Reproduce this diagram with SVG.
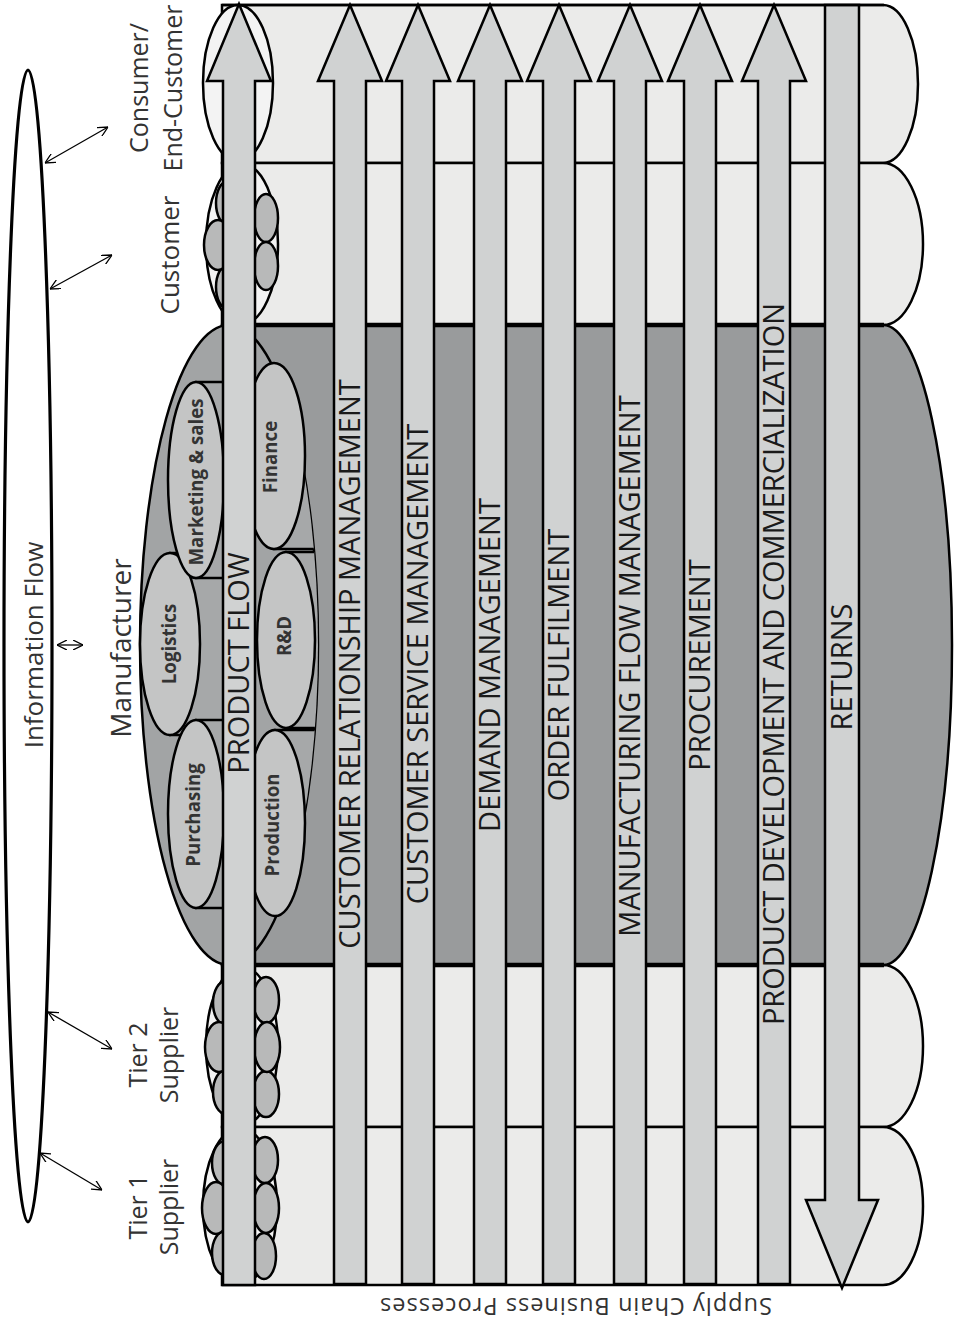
<svg xmlns="http://www.w3.org/2000/svg" width="954" height="1325" viewBox="0 0 954 1325">
<defs>
<style>
.band{fill:#ebebea;stroke:#000;stroke-width:2.5}
.face{fill:#f3f3f3;stroke:#000;stroke-width:2.5}
.sm{fill:#b8b9b9;stroke:#000;stroke-width:2.5}
.ov{fill:#c4c5c5;stroke:#000;stroke-width:2.5}
.ovr{fill:#a6a8a9;stroke:#000;stroke-width:2.5}
.arr{fill:#d0d2d2;stroke:#000;stroke-width:2.5;stroke-linejoin:miter}
.al{font-family:"Open Sans",sans-serif;font-size:29px;fill:#1a1a1a;text-anchor:middle}
.sl{font-family:"Open Sans",sans-serif;font-size:25px;fill:#333;text-anchor:middle}
.ol{font-family:"Open Sans",sans-serif;font-size:18.7px;font-weight:bold;fill:#333;text-anchor:middle}
.dl{fill:none;stroke:#000;stroke-width:1.3;marker-start:url(#va);marker-end:url(#va)}
</style>
<marker id="va" viewBox="0 0 10 10" refX="10" refY="5" markerWidth="10" markerHeight="10" markerUnits="userSpaceOnUse" orient="auto-start-reverse">
<path d="M0,0 L10,5 L0,10" fill="none" stroke="#000" stroke-width="1.3"/>
</marker>
<clipPath id="bigc"><ellipse cx="229" cy="645" rx="89" ry="320"/></clipPath>
</defs>

<g id="information-flow">
<ellipse cx="28" cy="646" rx="24" ry="576" fill="none" stroke="#000" stroke-width="3.2"/>
<text class="sl" transform="translate(43,645) rotate(-90)" style="font-size:26px">Information Flow</text>
</g>

<g id="consumer">
<path class="band" d="M222,5 H883 A35,79 0 0 1 883,163 H222 Z"/>
<ellipse class="face" cx="238" cy="83" rx="35" ry="78"/>
<text class="sl" transform="translate(148,88) rotate(-90)">Consumer/</text>
<text class="sl" transform="translate(182,88) rotate(-90)">End-Customer</text>
</g>

<g id="customer">
<path class="band" d="M222,163 H883 A40,81 0 0 1 883,325 H222 Z"/>
<ellipse class="face" cx="242" cy="244" rx="36" ry="80"/>
<ellipse class="sm" cx="228" cy="203" rx="12" ry="22"/>
<ellipse class="sm" cx="228" cy="287" rx="12" ry="22"/>
<ellipse class="sm" cx="218" cy="245" rx="14" ry="25"/>
<ellipse class="sm" cx="266" cy="218" rx="12" ry="24"/>
<ellipse class="sm" cx="266" cy="266" rx="12" ry="24"/>
<text class="sl" transform="translate(179,255) rotate(-90)" style="font-size:26px">Customer</text>
</g>

<g id="tier2-supplier">
<path class="band" d="M222,965 H883 A40,81 0 0 1 883,1127 H222 Z"/>
<ellipse class="face" cx="242" cy="1046" rx="36" ry="79"/>
<ellipse class="sm" cx="226" cy="1003" rx="13" ry="22"/>
<ellipse class="sm" cx="226" cy="1092" rx="13" ry="22"/>
<ellipse class="sm" cx="219" cy="1047" rx="14" ry="25"/>
<ellipse class="sm" cx="266" cy="1000" rx="13" ry="23"/>
<ellipse class="sm" cx="266" cy="1094" rx="13" ry="23"/>
<ellipse class="sm" cx="267" cy="1047" rx="13" ry="25"/>
<text class="sl" transform="translate(147,1055) rotate(-90)">Tier 2</text>
<text class="sl" transform="translate(178,1055) rotate(-90)">Supplier</text>
</g>

<g id="tier1-supplier">
<path class="band" d="M222,1127 H883 A40,79 0 0 1 883,1285 H222 Z"/>
<ellipse class="face" cx="240" cy="1206" rx="37" ry="78"/>
<ellipse class="sm" cx="225" cy="1163" rx="13" ry="22"/>
<ellipse class="sm" cx="225" cy="1253" rx="13" ry="22"/>
<ellipse class="sm" cx="216" cy="1208" rx="14" ry="26"/>
<ellipse class="sm" cx="265" cy="1160" rx="13" ry="23"/>
<ellipse class="sm" cx="264" cy="1256" rx="12" ry="23"/>
<ellipse class="sm" cx="266" cy="1208" rx="13" ry="25"/>
<text class="sl" transform="translate(147,1207) rotate(-90)">Tier 1</text>
<text class="sl" transform="translate(178,1207) rotate(-90)">Supplier</text>
</g>

<g id="manufacturer">
<path d="M222,325 H883 A69,320 0 0 1 883,965 H222 Z" fill="#999b9c" stroke="#000" stroke-width="2.5"/>
<line x1="222" y1="325" x2="884" y2="325" stroke="#000" stroke-width="4.5"/>
<line x1="222" y1="965" x2="884" y2="965" stroke="#000" stroke-width="4.5"/>
<ellipse cx="229" cy="645" rx="89" ry="320" fill="#a2a4a5" stroke="#000" stroke-width="2.5"/>
<g id="logistics">
<rect class="ovr" x="170" y="553" width="65" height="182"/>
<ellipse class="ov" cx="170" cy="644" rx="30" ry="91"/>
<text class="ol" transform="translate(176,644) rotate(-90)">Logistics</text>
</g>
<g id="marketing-sales">
<rect class="ovr" x="196" y="382" width="39" height="196"/>
<ellipse class="ov" cx="196" cy="480" rx="28" ry="98"/>
<text class="ol" transform="translate(203,482) rotate(-90)">Marketing &amp; sales</text>
</g>
<g id="purchasing">
<rect class="ovr" x="196" y="720" width="39" height="188"/>
<ellipse class="ov" cx="196" cy="814" rx="28" ry="94"/>
<text class="ol" transform="translate(200,815) rotate(-90)">Purchasing</text>
</g>
<g id="rnd">
<rect class="ovr" x="286" y="552" width="50" height="176" clip-path="url(#bigc)"/>
<ellipse class="ov" cx="286" cy="640" rx="29" ry="88"/>
<text class="ol" transform="translate(291,636) rotate(-90)">R&amp;D</text>
</g>
<g id="finance">
<rect class="ovr" x="274" y="363" width="60" height="186" clip-path="url(#bigc)"/>
<ellipse class="ov" cx="274" cy="456" rx="31" ry="93"/>
<text class="ol" transform="translate(277,457) rotate(-90)">Finance</text>
</g>
<g id="production">
<rect class="ovr" x="275" y="730" width="60" height="186" clip-path="url(#bigc)"/>
<ellipse class="ov" cx="275" cy="823" rx="30" ry="93"/>
<text class="ol" transform="translate(279,825) rotate(-90)">Production</text>
</g>
<text class="sl" transform="translate(131,648) rotate(-90)" style="font-size:28px">Manufacturer</text>
</g>

<g id="connectors">
<line class="dl" x1="45" y1="163" x2="108" y2="127"/>
<line class="dl" x1="50" y1="289" x2="112" y2="255"/>
<line class="dl" x1="57" y1="645" x2="83" y2="645"/>
<line class="dl" x1="48" y1="1012" x2="112" y2="1049"/>
<line class="dl" x1="40" y1="1153" x2="102" y2="1190"/>
</g>

<g id="process-arrows">
<g id="crm"><path class="arr" d="M334,1284 V81 H318 L350,5 L382,81 H366 V1284 Z"/>
<text class="al" transform="translate(360,664) rotate(-90)">CUSTOMER RELATIONSHIP MANAGEMENT</text></g>
<g id="csm"><path class="arr" d="M402,1284 V81 H386 L418,5 L450,81 H434 V1284 Z"/>
<text class="al" transform="translate(428,664) rotate(-90)">CUSTOMER SERVICE MANAGEMENT</text></g>
<g id="dm"><path class="arr" d="M474,1284 V81 H458 L490,5 L522,81 H506 V1284 Z"/>
<text class="al" transform="translate(500,665) rotate(-90)">DEMAND MANAGEMENT</text></g>
<g id="of"><path class="arr" d="M543,1284 V81 H527 L559,5 L591,81 H575 V1284 Z"/>
<text class="al" transform="translate(569,665) rotate(-90)">ORDER FULFILMENT</text></g>
<g id="mfm"><path class="arr" d="M614,1284 V81 H598 L630,5 L662,81 H646 V1284 Z"/>
<text class="al" transform="translate(640,666) rotate(-90)">MANUFACTURING FLOW MANAGEMENT</text></g>
<g id="procurement"><path class="arr" d="M684,1284 V81 H668 L700,5 L732,81 H716 V1284 Z"/>
<text class="al" transform="translate(710,665) rotate(-90)">PROCUREMENT</text></g>
<g id="pdc"><path class="arr" d="M758,1284 V81 H742 L774,5 L806,81 H790 V1284 Z"/>
<text class="al" transform="translate(784,664) rotate(-90)">PRODUCT DEVELOPMENT AND COMMERCIALIZATION</text></g>
<g id="returns"><path class="arr" d="M825,5 V1200 H806 L842,1288 L878,1200 H859 V5 Z"/>
<text class="al" transform="translate(852,667) rotate(-90)">RETURNS</text></g>
</g>

<g id="product-flow">
<path class="arr" d="M223,1285 V81 H207 L239,4 L271,81 H255 V1285 Z"/>
<text class="al" transform="translate(249,663) rotate(-90)">PRODUCT FLOW</text>
</g>

<line x1="222" y1="5" x2="884" y2="5" stroke="#000" stroke-width="2.5"/>

<text class="sl" transform="translate(576,1298) rotate(180)" style="font-size:23.5px" textLength="392" lengthAdjust="spacing">Supply Chain Business Processes</text>
</svg>
